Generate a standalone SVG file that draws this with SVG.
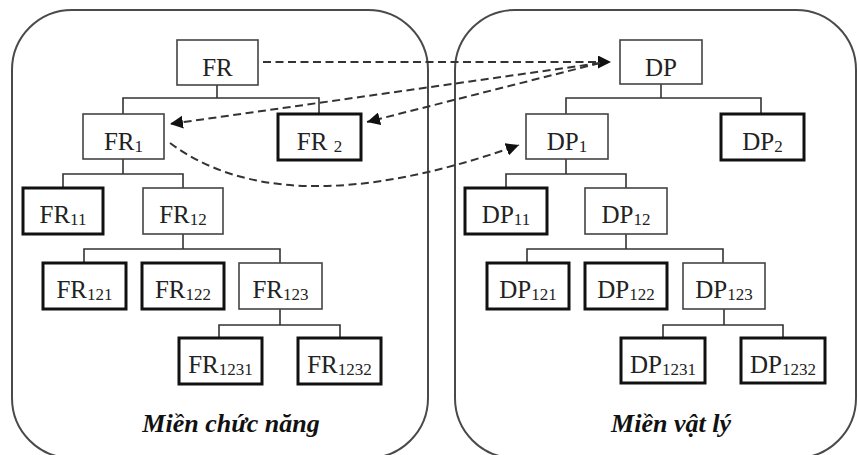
<svg xmlns="http://www.w3.org/2000/svg" width="858" height="455" viewBox="0 0 858 455">
<style>
.panel{fill:none;stroke:#4a4a4a;stroke-width:2}
.thin{fill:#fff;stroke:#444;stroke-width:1.6}
.thick{fill:#fff;stroke:#111;stroke-width:3}
.tree{fill:none;stroke:#333;stroke-width:1.6}
.dash{fill:none;stroke:#333;stroke-width:2;stroke-dasharray:8 4.5}
.t{font-family:"Liberation Serif","Times New Roman",serif;font-size:25px;fill:#222;text-anchor:middle}
.s{font-size:17px}
.lbl{font-family:"Liberation Serif","Times New Roman",serif;font-size:26px;font-style:italic;font-weight:bold;fill:#111;text-anchor:middle}
</style>
<defs>
<marker id="ah" viewBox="0 0 10 10" refX="10" refY="5" markerWidth="6.5" markerHeight="6.5" markerUnits="strokeWidth" orient="auto">
<path d="M0,0 L10,5 L0,10 z" fill="#111"/>
</marker>
</defs>
<g id="panel-functional"><rect class="panel" x="12" y="10" width="416" height="448" rx="60" ry="60"/><text class="lbl" x="231" y="432">Miền chức năng</text></g>
<g id="panel-physical"><rect class="panel" x="455" y="10" width="401" height="448" rx="60" ry="60"/><text class="lbl" x="671" y="432">Miền vật lý</text></g>
<g id="tree-lines">
<path class="tree" d="M217,85V98M123,114V98H319V114"/>
<path class="tree" d="M123,159V174M63,188V174H183V188"/>
<path class="tree" d="M183,234V249M84,263V249H280V263"/>
<path class="tree" d="M280,309V325M219,338V325H340V338"/>
<path class="tree" d="M661,84V98M566,114V98H761V114"/>
<path class="tree" d="M566,159V174M506,188V174H626V188"/>
<path class="tree" d="M626,234V249M527,263V249H723V263"/>
<path class="tree" d="M724,309V325M663,338V325H783V338"/>
</g>
<g id="FR"><rect class="thin" x="177" y="40" width="81" height="45"/><text class="t" x="217.5" y="76">FR</text></g>
<g id="FR1"><rect class="thin" x="83" y="114" width="81" height="45"/><text class="t" x="123.5" y="150">FR<tspan class="s" dy="2">1</tspan></text></g>
<g id="FR2"><rect class="thick" x="278" y="114" width="83" height="46"/><text class="t" x="319.5" y="150">FR <tspan class="s" dy="2">2</tspan></text></g>
<g id="FR11"><rect class="thick" x="23" y="188" width="80" height="46"/><text class="t" x="63" y="223">FR<tspan class="s" dy="2">11</tspan></text></g>
<g id="FR12"><rect class="thin" x="143" y="188" width="80" height="46"/><text class="t" x="183" y="223">FR<tspan class="s" dy="2">12</tspan></text></g>
<g id="FR121"><rect class="thick" x="43" y="263" width="83" height="46"/><text class="t" x="84.5" y="298">FR<tspan class="s" dy="2">121</tspan></text></g>
<g id="FR122"><rect class="thick" x="142" y="263" width="82" height="46"/><text class="t" x="183" y="298">FR<tspan class="s" dy="2">122</tspan></text></g>
<g id="FR123"><rect class="thin" x="239" y="263" width="83" height="46"/><text class="t" x="280.5" y="298">FR<tspan class="s" dy="2">123</tspan></text></g>
<g id="FR1231"><rect class="thick" x="179" y="338" width="83" height="46"/><text class="t" x="220.5" y="373">FR<tspan class="s" dy="2">1231</tspan></text></g>
<g id="FR1232"><rect class="thick" x="298" y="338" width="83" height="46"/><text class="t" x="339.5" y="373">FR<tspan class="s" dy="2">1232</tspan></text></g>
<g id="DP"><rect class="thin" x="620" y="40" width="82" height="44"/><text class="t" x="661" y="76">DP</text></g>
<g id="DP1"><rect class="thin" x="526" y="114" width="82" height="45"/><text class="t" x="567" y="150">DP<tspan class="s" dy="2">1</tspan></text></g>
<g id="DP2"><rect class="thick" x="721" y="114" width="83" height="46"/><text class="t" x="762.5" y="150">DP<tspan class="s" dy="2">2</tspan></text></g>
<g id="DP11"><rect class="thick" x="465" y="188" width="82" height="46"/><text class="t" x="506" y="223">DP<tspan class="s" dy="2">11</tspan></text></g>
<g id="DP12"><rect class="thin" x="585" y="188" width="82" height="46"/><text class="t" x="626" y="223">DP<tspan class="s" dy="2">12</tspan></text></g>
<g id="DP121"><rect class="thick" x="487" y="263" width="82" height="46"/><text class="t" x="528" y="298">DP<tspan class="s" dy="2">121</tspan></text></g>
<g id="DP122"><rect class="thick" x="585" y="263" width="82" height="46"/><text class="t" x="626" y="298">DP<tspan class="s" dy="2">122</tspan></text></g>
<g id="DP123"><rect class="thin" x="683" y="263" width="82" height="46"/><text class="t" x="724" y="298">DP<tspan class="s" dy="2">123</tspan></text></g>
<g id="DP1231"><rect class="thick" x="621" y="338" width="84" height="45"/><text class="t" x="663" y="373">DP<tspan class="s" dy="2">1231</tspan></text></g>
<g id="DP1232"><rect class="thick" x="741" y="338" width="84" height="45"/><text class="t" x="783" y="373">DP<tspan class="s" dy="2">1232</tspan></text></g>
<g id="mappings">
<path class="dash" d="M263,62H611" marker-end="url(#ah)"/>
<path class="dash" d="M600,63L170,124" marker-end="url(#ah)"/>
<path class="dash" d="M600,63L367,122" marker-end="url(#ah)"/>
<path class="dash" d="M170,143C240,195 350,205 519,145" marker-end="url(#ah)"/>
</g>
</svg>
